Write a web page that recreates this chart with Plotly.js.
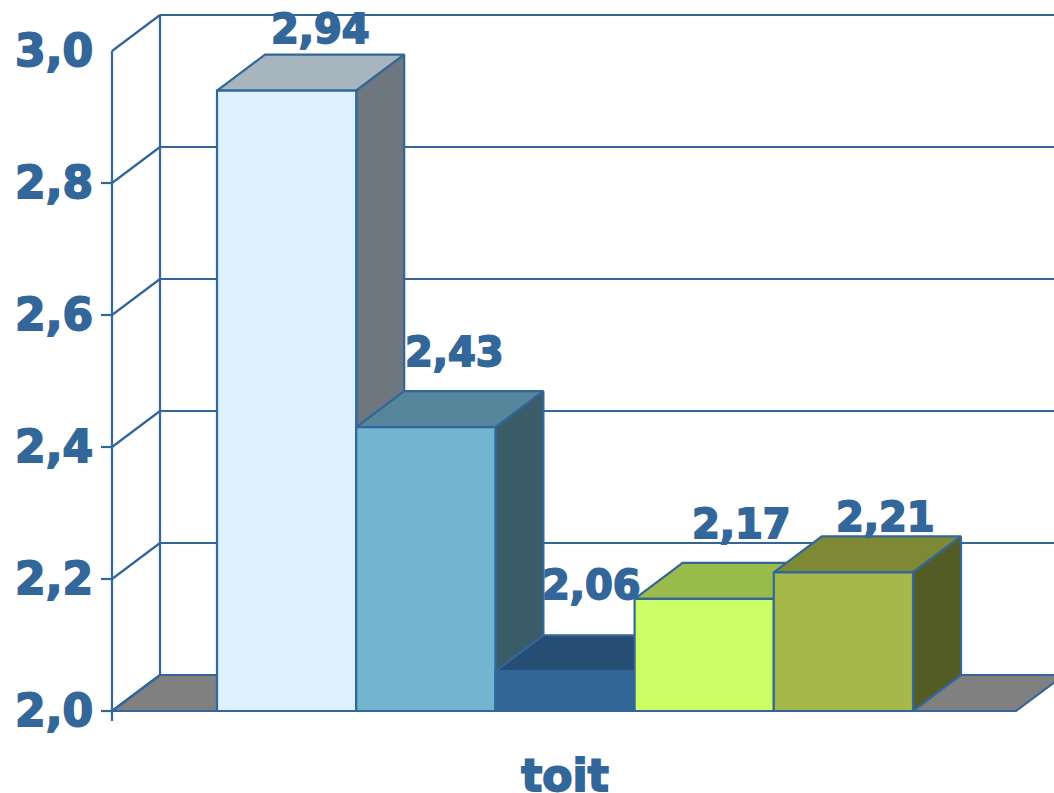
<!DOCTYPE html>
<html>
<head>
<meta charset="utf-8">
<script src="https://cdn.plot.ly/plotly-3.0.1.min.js"></script>
<style>
html,body{margin:0;padding:0;background:#fff}
#chart{width:1054px;height:793px}
#chart .xtick text,#chart .ytick text,#chart .annotation-text{stroke:#336699;stroke-width:1.8px;paint-order:stroke fill}
</style>
</head>
<body>
<div id="chart"></div>
<script>
// Data
const categories = ['toit'];
const values = [2.94, 2.43, 2.06, 2.17, 2.21];
const yTicks = [2.0, 2.2, 2.4, 2.6, 2.8, 3.0];

// Styles
const frontColors = ['#DDF1FF', '#73B4D0', '#336699', '#CCFF66', '#A7B84B'];
const topColors = ['#A7B5BE', '#558699', '#264D73', '#99BB4C', '#7D8935'];
const sideColors = ['#6E7780', '#3A5C68', '#264D73', '#738C3A', '#545C26'];
const labelShift = [[34, 62], [29, 75], [26, 86], [37, 75], [42, 55]];
const INK = '#336699', FONT = '"DejaVu Sans", sans-serif';

// Geometry in axis units: one bar is one x unit, y is in value units
const W = 1054, H = 793, PLOT_LEFT = 98, PLOT_BOTTOM = 723;
const FRONT_AXIS = 112, BASE_PX = 711;
const unitPx = 139.2, valuePx = 660, originPx = 217;
const dx = 48 / unitPx, dy = 36 / valuePx;
const xFront = (FRONT_AXIS - originPx) / unitPx;
const xMin = (PLOT_LEFT - originPx) / unitPx, xMax = (W - originPx) / unitPx;
const yBase = yTicks[0];
const yMin = yBase - (PLOT_BOTTOM - BASE_PX) / valuePx, yMax = yBase + BASE_PX / valuePx;
const floorRight = values.length + 0.74;

const traces = [];
function poly(x, y, fill, lw) {
  traces.push({type: 'scatter', mode: 'lines', x: x.concat(x[0]), y: y.concat(y[0]),
    fill: 'toself', fillcolor: fill, line: {color: INK, width: lw || 2.2},
    hoverinfo: 'skip'});
}
function segs(list, lw) {
  const x = [], y = [];
  list.forEach(s => { x.push(s[0], s[2], null); y.push(s[1], s[3], null); });
  traces.push({type: 'scatter', mode: 'lines', x, y, line: {color: INK, width: lw || 2.2},
    hoverinfo: 'skip', connectgaps: false});
}

// Floor
poly([xFront, xFront + dx, floorRight + dx, floorRight], [yBase, yBase + dy, yBase + dy, yBase], '#808080');

// Back wall grid, side wall diagonals, small ticks, vertical edges
const gridSegs = [];
yTicks.forEach((t, i) => {
  gridSegs.push([xFront + dx, t + dy, xMax, t + dy]);
  gridSegs.push([xFront, t, xFront + dx, t + dy]);
  if (i < yTicks.length - 1) gridSegs.push([xFront - 11 / unitPx, t, xFront, t]);
});
gridSegs.push([xFront, yBase - 10 / valuePx, xFront, yTicks[5]]);
gridSegs.push([xFront + dx, yBase + dy, xFront + dx, yTicks[5] + dy]);
segs(gridSegs);

// Bars, left to right
values.forEach((v, i) => {
  poly([i, i + dx, i + 1 + dx, i + 1], [v, v + dy, v + dy, v], topColors[i]);
  poly([i + 1, i + 1 + dx, i + 1 + dx, i + 1], [yBase, yBase + dy, v + dy, v], sideColors[i]);
  poly([i, i + 1, i + 1, i], [yBase, yBase, v, v], frontColors[i]);
});

const annotations = values.map((v, i) => ({
  x: i + 0.5, y: v, xref: 'x', yref: 'y', showarrow: false,
  text: v.toFixed(2).replace('.', ','),
  xshift: labelShift[i][0], yshift: labelShift[i][1],
  xanchor: 'center', yanchor: 'middle',
  font: {family: FONT, size: 40, color: INK, weight: 'bold'}
}));

const layout = {
  width: W, height: H,
  margin: {l: PLOT_LEFT, r: 0, t: 0, b: H - PLOT_BOTTOM, pad: 0},
  paper_bgcolor: '#fff', plot_bgcolor: 'rgba(0,0,0,0)',
  showlegend: false, hovermode: false,
  separators: ',.',
  xaxis: {
    range: [xMin, xMax], showgrid: false, zeroline: false, showline: false, ticks: '',
    tickmode: 'array', tickvals: [values.length / 2], ticktext: categories,
    tickfont: {family: FONT, size: 44, color: INK, weight: 'bold'},
    ticklabelstandoff: 23
  },
  yaxis: {
    range: [yMin, yMax], showgrid: false, zeroline: false, showline: false, ticks: '',
    tickmode: 'array', tickvals: yTicks, tickformat: '.1f',
    tickfont: {family: FONT, size: 44, color: INK, weight: 'bold'},
    ticklabelstandoff: 4
  },
  annotations
};
Plotly.newPlot('chart', traces, layout, {displayModeBar: false, staticPlot: true});
</script>
</body>
</html>
